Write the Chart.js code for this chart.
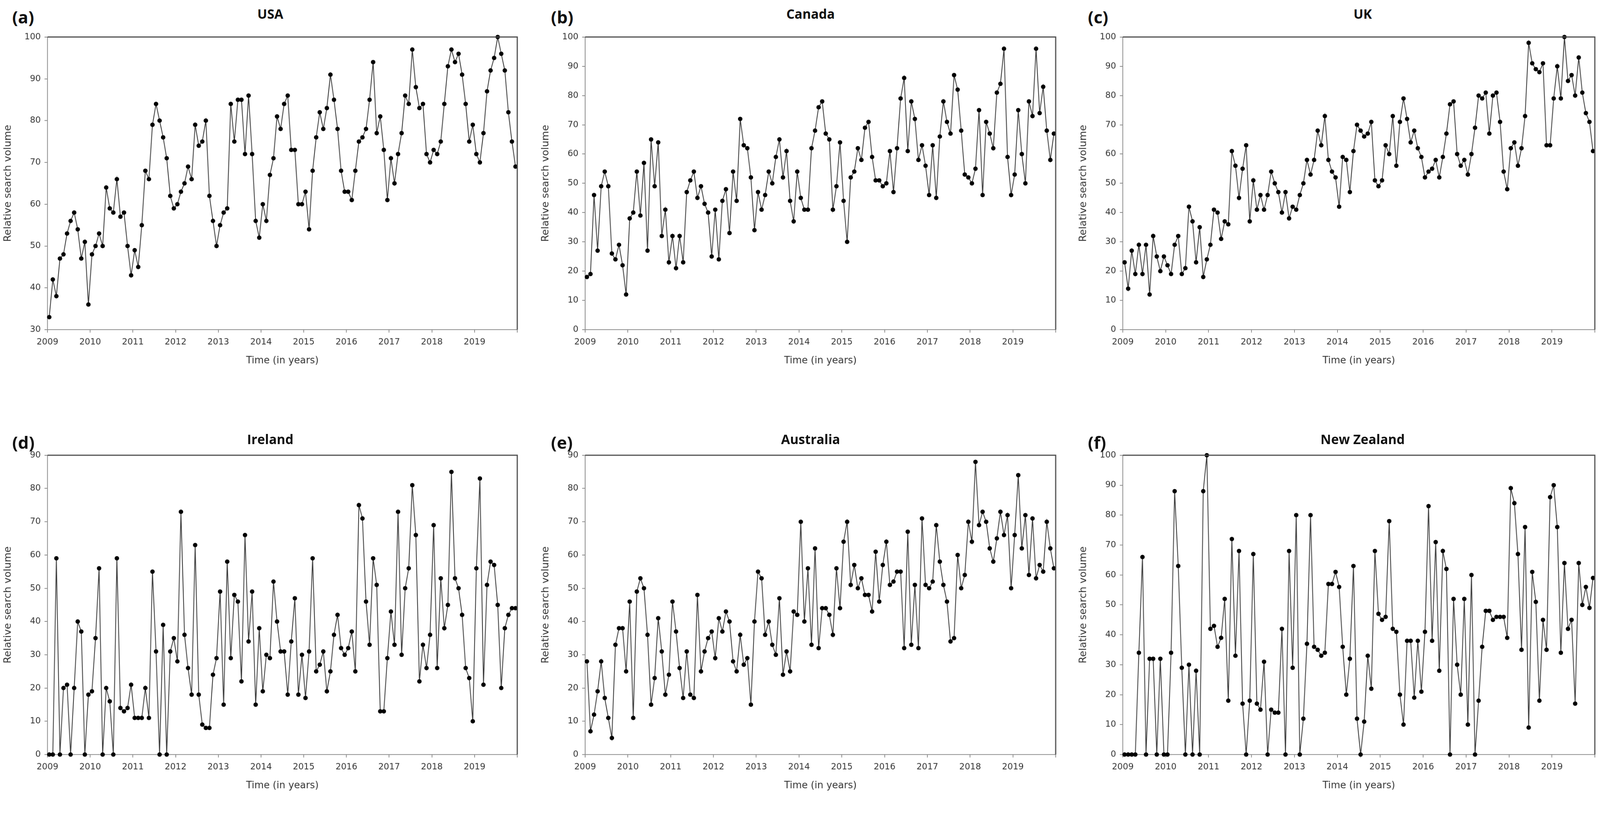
<!DOCTYPE html>
<html>
<head>
<meta charset="utf-8">
<script src="https://cdn.jsdelivr.net/npm/chart.js@4.4.0/dist/chart.umd.min.js"></script>
<style>
  html, body { margin: 0; padding: 0; background: #fff; overflow: hidden; }
  #page { position: absolute; left: 0; top: 0; width: 4315px; height: 2148px; transform-origin: 0 0; overflow: hidden; background: #fff; }
  canvas { position: absolute; }
  .letter { position: absolute; font: bold 46px "Open Sans", sans-serif; color: #111; transform: translateY(-50%); }
  .title { position: absolute; font: bold 35px "Open Sans", sans-serif; color: #111; transform: translate(-50%, -50%); white-space: nowrap; }
</style>
</head>
<body>
<div id="page"></div>
<script>
// monthly values, Jan 2009 .. Dec 2019
const years = ['2009', '2010', '2011', '2012', '2013', '2014', '2015', '2016', '2017', '2018', '2019'];

const usa = [33,42,38,47,48,53,56,58,54,47,51,36, 48,50,53,50,64,59,58,66,57,58,50,43,
  49,45,55,68,66,79,84,80,76,71,62,59, 60,63,65,69,66,79,74,75,80,62,56,50,
  55,58,59,84,75,85,85,72,86,72,56,52, 60,56,67,71,81,78,84,86,73,73,60,60,
  63,54,68,76,82,78,83,91,85,78,68,63, 63,61,68,75,76,78,85,94,77,81,73,61,
  71,65,72,77,86,84,97,88,83,84,72,70, 73,72,75,84,93,97,94,96,91,84,75,79,
  72,70,77,87,92,95,100,96,92,82,75,69];

const canada = [18,19,46,27,49,54,49,26,24,29,22,12, 38,40,54,39,57,27,65,49,64,32,41,23,
  32,21,32,23,47,51,54,45,49,43,40,25, 41,24,44,48,33,54,44,72,63,62,52,34,
  47,41,46,54,50,59,65,52,61,44,37,54, 45,41,41,62,68,76,78,67,65,41,49,64,
  44,30,52,54,62,58,69,71,59,51,51,49, 50,61,47,62,79,86,61,78,72,58,63,56,
  46,63,45,66,78,71,67,87,82,68,53,52, 50,55,75,46,71,67,62,81,84,96,59,46,
  53,75,60,50,78,73,96,74,83,68,58,67];

const uk = [23,14,27,19,29,19,29,12,32,25,20,25, 22,19,29,32,19,21,42,37,23,35,18,24,
  29,41,40,31,37,36,61,56,45,55,63,37, 51,41,46,41,46,54,50,47,40,47,38,42,
  41,46,50,58,53,58,68,63,73,58,54,52, 42,59,58,47,61,70,68,66,67,71,51,49,
  51,63,60,73,56,71,79,72,64,68,62,59, 52,54,55,58,52,59,67,77,78,60,56,58,
  53,60,69,80,79,81,67,80,81,71,54,48, 62,64,56,62,73,98,91,89,88,91,63,63,
  79,90,79,100,85,87,80,93,81,74,71,61];

const ireland = [0,0,59,0,20,21,0,20,40,37,0,18, 19,35,56,0,20,16,0,59,14,13,14,21,
  11,11,11,20,11,55,31,0,39,0,31,35, 28,73,36,26,18,63,18,9,8,8,24,29,
  49,15,58,29,48,46,22,66,34,49,15,38, 19,30,29,52,40,31,31,18,34,47,18,30,
  17,31,59,25,27,31,19,25,36,42,32,30, 32,37,25,75,71,46,33,59,51,13,13,29,
  43,33,73,30,50,56,81,66,22,33,26,36, 69,26,53,38,45,85,53,50,42,26,23,10,
  56,83,21,51,58,57,45,20,38,42,44,44];

const australia = [28,7,12,19,28,17,11,5,33,38,38,25, 46,11,49,53,50,36,15,23,41,31,18,24,
  46,37,26,17,31,18,17,48,25,31,35,37, 29,41,37,43,40,28,25,36,27,29,15,40,
  55,53,36,40,33,30,47,24,31,25,43,42, 70,40,56,33,62,32,44,44,42,36,56,44,
  64,70,51,57,50,53,48,48,43,61,46,57, 64,51,52,55,55,32,67,33,51,32,71,51,
  50,52,69,58,51,46,34,35,60,50,54,70, 64,88,69,73,70,62,58,65,73,66,72,50,
  66,84,62,72,54,71,53,57,55,70,62,56];

const newZealand = [0,0,0,0,34,66,0,32,32,0,32,0, 0,34,88,63,29,0,30,0,28,0,88,100,
  42,43,36,39,52,18,72,33,68,17,0,18, 67,17,15,31,0,15,14,14,42,0,68,29,
  80,0,12,37,80,36,35,33,34,57,57,61, 56,36,20,32,63,12,0,11,33,22,68,47,
  45,46,78,42,41,20,10,38,38,19,38,21, 41,83,38,71,28,68,62,0,52,30,20,52,
  10,60,0,18,36,48,48,45,46,46,46,39, 89,84,67,35,76,9,61,51,18,45,35,86,
  90,76,34,64,42,45,17,64,50,56,49,59];

// plot-area boxes in page pixels
const panels = [
  { letter: '(a)', name: 'USA',         values: usa,        min: 30, max: 100, x: 128,  y: 94,   w: 1267, h: 795, lx: 33,   ly: 45,   tx: 729,  ty: 37 },
  { letter: '(b)', name: 'Canada',      values: canada,     min: 0,  max: 100, x: 1578, y: 94,   w: 1269, h: 795, lx: 1486, ly: 45,   tx: 2186, ty: 37 },
  { letter: '(c)', name: 'UK',          values: uk,         min: 0,  max: 100, x: 3028, y: 94,   w: 1273, h: 795, lx: 2934, ly: 45,   tx: 3675, ty: 37 },
  { letter: '(d)', name: 'Ireland',     values: ireland,    min: 0,  max: 90,  x: 128,  y: 1222, w: 1267, h: 813, lx: 33,   ly: 1192, tx: 729,  ty: 1184 },
  { letter: '(e)', name: 'Australia',   values: australia,  min: 0,  max: 90,  x: 1578, y: 1222, w: 1269, h: 813, lx: 1486, ly: 1192, tx: 2186, ty: 1184 },
  { letter: '(f)', name: 'New Zealand', values: newZealand, min: 0,  max: 100, x: 3028, y: 1222, w: 1273, h: 813, lx: 2934, ly: 1192, tx: 3675, ty: 1184 }
];

const LEFT = 128, TOP = 18, RIGHT = 12, BOTTOM = 110;

// the window can report fewer css pixels than the photo has; fit the page to it
const page = document.getElementById('page');
const fit = Math.min(window.innerWidth / 4315, window.innerHeight / 2148);
if (fit > 0 && Math.abs(fit - 1) > 0.002) page.style.transform = 'scale(' + fit + ')';

const frame = {
  id: 'frame',
  afterDraw(chart) {
    const { ctx, chartArea: a } = chart;
    ctx.save();
    ctx.strokeStyle = '#4a4a4a';
    ctx.lineWidth = 3;
    ctx.beginPath();
    ctx.moveTo(a.left, a.top);
    ctx.lineTo(a.right, a.top);
    ctx.lineTo(a.right, a.bottom);
    ctx.stroke();
    ctx.restore();
  }
};

panels.forEach(p => {
  const c = document.createElement('canvas');
  c.width = LEFT + p.w + RIGHT;
  c.height = TOP + p.h + BOTTOM;
  c.style.left = (p.x - LEFT) + 'px';
  c.style.top = (p.y - TOP) + 'px';
  page.appendChild(c);

  const l = document.createElement('div');
  l.className = 'letter';
  l.textContent = p.letter;
  l.style.left = p.lx + 'px';
  l.style.top = p.ly + 'px';
  page.appendChild(l);

  const t = document.createElement('div');
  t.className = 'title';
  t.textContent = p.name;
  t.style.left = p.tx + 'px';
  t.style.top = p.ty + 'px';
  page.appendChild(t);

  new Chart(c, {
    type: 'line',
    data: {
      datasets: [{
        data: p.values.map((v, i) => ({ x: i + 0.5, y: v })),
        borderColor: '#3c3c3c',
        borderWidth: 2.2,
        pointRadius: 6,
        pointBackgroundColor: '#000',
        pointBorderWidth: 0,
        tension: 0,
        clip: false
      }]
    },
    options: {
      responsive: false,
      animation: false,
      devicePixelRatio: 1,
      layout: { padding: { top: TOP, right: RIGHT, left: 0, bottom: 0 } },
      plugins: { legend: { display: false }, tooltip: { enabled: false } },
      scales: {
        x: {
          type: 'linear', min: 0, max: 132,
          afterFit: s => { s.height = BOTTOM; },
          ticks: {
            stepSize: 12, autoSkip: false, maxRotation: 0, padding: 12,
            color: '#333', font: { family: 'DejaVu Sans', size: 23 },
            callback: v => v < 132 ? years[v / 12] : ''
          },
          grid: { drawOnChartArea: false, drawTicks: true, tickLength: 8, color: '#8a8a8a', lineWidth: 2 },
          border: { color: '#8a8a8a', width: 2 },
          title: { display: true, text: 'Time (in years)', color: '#333', font: { family: 'DejaVu Sans', size: 26 }, padding: { top: 4, bottom: 10 } }
        },
        y: {
          min: p.min, max: p.max,
          afterFit: s => { s.width = LEFT; },
          ticks: { stepSize: 10, padding: 10, color: '#333', font: { family: 'DejaVu Sans', size: 23 } },
          grid: { drawOnChartArea: false, drawTicks: true, tickLength: 8, color: '#8a8a8a', lineWidth: 2 },
          border: { color: '#8a8a8a', width: 2 },
          title: { display: true, text: 'Relative search volume', color: '#333', font: { family: 'DejaVu Sans', size: 27 }, padding: { top: 6, bottom: 0 } }
        }
      }
    },
    plugins: [frame]
  });
});
</script>
</body>
</html>
